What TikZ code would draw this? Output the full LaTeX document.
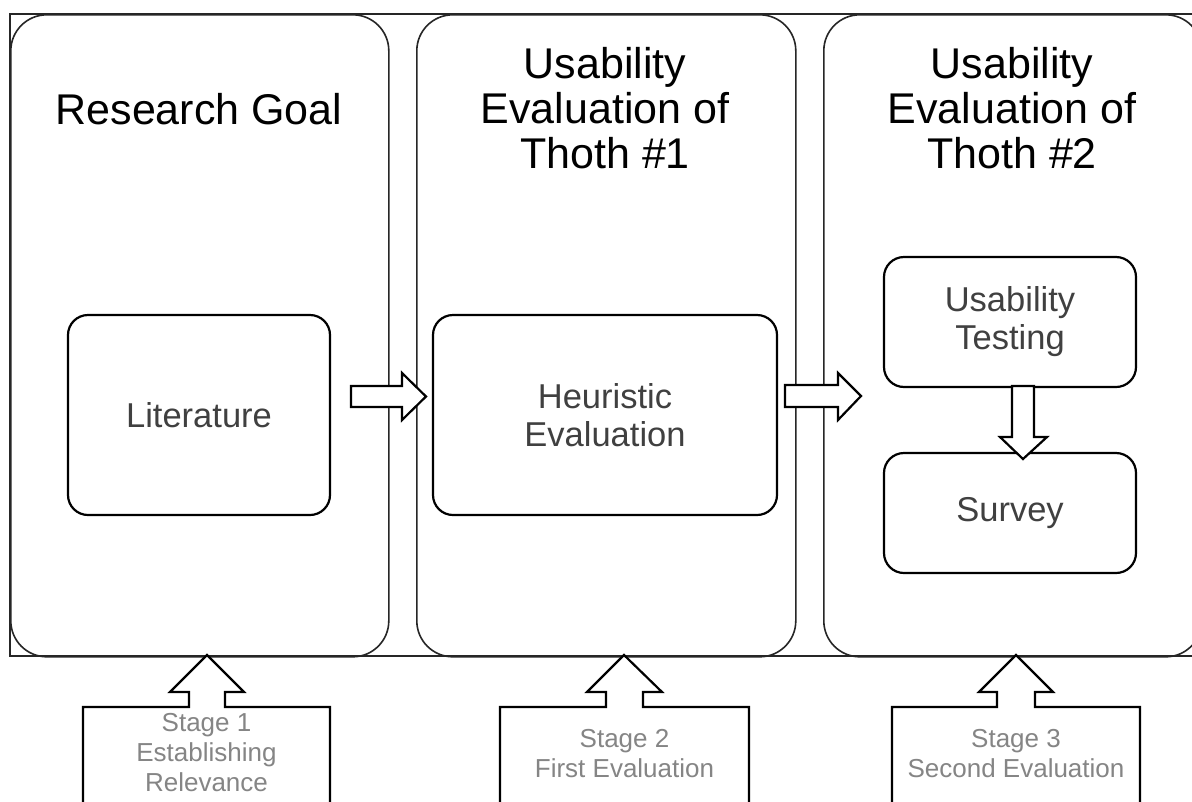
\documentclass[tikz,border=0pt]{standalone}
\usepackage{fontspec}
\setmainfont{Liberation Sans}
\definecolor{innertext}{HTML}{404040}
\definecolor{stagetext}{HTML}{858585}
\begin{document}
\begin{tikzpicture}[x=1pt,y=-1pt,
  column/.style={draw=black!85,line width=1.6pt,rounded corners=36pt,minimum width=378pt,minimum height=642pt,inner sep=0pt},
  inner/.style={draw=black,line width=2.2pt,rounded corners=20pt,inner sep=0pt,fill=white},
  titletext/.style={font=\fontsize{43}{45}\selectfont,align=center,text=black,inner sep=0pt},
  innertxt/.style={font=\fontsize{34.5}{38}\selectfont,align=center,text=innertext,inner sep=0pt},
  stagetxt/.style={font=\fontsize{26}{30}\selectfont,align=center,text=stagetext,inner sep=0pt},
  blockarrow/.style={draw=black,line width=2.2pt,fill=white,line join=miter},
  stageshape/.style={draw=black,line width=2.2pt,fill=white,line join=miter}]
\useasboundingbox (0,0) rectangle (1192,801);
\clip (0,0) rectangle (1192,801);
\fill[white] (0,0) rectangle (1192,801);
% outer frame
\draw[line width=1.3pt,black!85] (10,14) rectangle (1230,656);
% columns
\node[column,anchor=north west] (col1) at (10,14) {};
\node[column,anchor=north west,minimum width=379pt] (col2) at (416,14) {};
\node[column,anchor=north west] (col3) at (823,14) {};
% titles
\node[titletext] (t1) at (199,109) {Research Goal};
\node[titletext] (t2) at (605,108) {Usability\\Evaluation of\\Thoth \#1};
\node[titletext] (t3) at (1012,108) {Usability\\Evaluation of\\Thoth \#2};
% inner boxes
\node[inner,minimum width=262pt,minimum height=200pt] (lit) at (199,415) {};
\node[innertxt] at (lit.center) {Literature};
\node[inner,minimum width=344pt,minimum height=200pt] (heur) at (605,415) {};
\node[innertxt] at (heur.center) {Heuristic\\Evaluation};
\node[inner,minimum width=252pt,minimum height=130pt] (ut) at (1010,322) {};
\node[innertxt] at (ut.center) {Usability\\Testing};
\node[inner,minimum width=252pt,minimum height=120pt] (survey) at (1010,513) {};
\node[innertxt] at (survey.center) {Survey};
% block arrows
\draw[blockarrow] (351,386) -- (402,386) -- (402,373) -- (426,396.5) -- (402,420) -- (402,407) -- (351,407) -- cycle;
\draw[blockarrow] (785,385) -- (838,385) -- (838,373) -- (861,396) -- (838,420) -- (838,407) -- (785,407) -- cycle;
\draw[blockarrow] (1012,386) -- (1034,386) -- (1034,437) -- (1047,437) -- (1023,459) -- (1000,437) -- (1012,437) -- cycle;
% stage callouts
\draw[stageshape] (83,830) -- (83,707) -- (189,707) -- (189,692) -- (170,692) -- (207,655) -- (244,692) -- (225,692) -- (225,707) -- (330,707) -- (330,830);
\draw[stageshape] (500,830) -- (500,707) -- (606,707) -- (606,692) -- (587,692) -- (624,655) -- (662,692) -- (643,692) -- (643,707) -- (749,707) -- (749,830);
\draw[stageshape] (892,830) -- (892,707) -- (997,707) -- (997,692) -- (979,692) -- (1016,655) -- (1053,692) -- (1035,692) -- (1035,707) -- (1140,707) -- (1140,830);
\node[stagetxt] (s1) at (206.5,753) {Stage 1\\Establishing\\Relevance};
\node[stagetxt] (s2) at (624.5,754) {Stage 2\\First Evaluation};
\node[stagetxt] (s3) at (1016,754) {Stage 3\\Second Evaluation};
\end{tikzpicture}
\end{document}
